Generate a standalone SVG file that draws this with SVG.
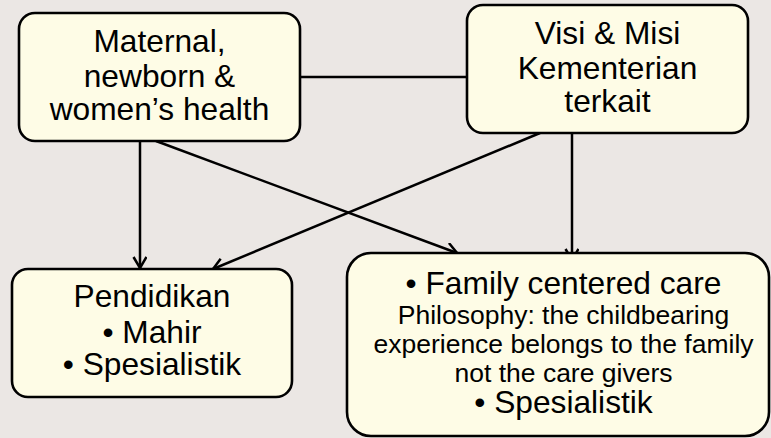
<svg xmlns="http://www.w3.org/2000/svg" width="771" height="438" viewBox="0 0 771 438">
<style>
.box{fill:#FEFCE6;stroke:#000;stroke-width:2.6}
.t{font-family:"Liberation Sans",Arial,sans-serif;fill:#000;text-anchor:middle}
.big{font-size:31.7px}
.small{font-size:26.5px}
.c{fill:none;stroke:#000;stroke-width:2.5}
</style>
<defs>
<marker id="arr" markerUnits="userSpaceOnUse" markerWidth="16" markerHeight="16" refX="12" refY="7" orient="auto">
<path d="M1,0.5 L12,7 L1,13.5" fill="none" stroke="#000" stroke-width="2.5"/>
</marker>
</defs>
<rect x="0" y="0" width="771" height="438" fill="#EBE7E4"/>
<g id="connectors">
<line class="c" x1="300" y1="77" x2="467" y2="77"/>
<line class="c" x1="140" y1="141" x2="140" y2="268" marker-end="url(#arr)"/>
<line class="c" x1="156" y1="141" x2="457" y2="253" marker-end="url(#arr)"/>
<line class="c" x1="540" y1="133" x2="213" y2="269" marker-end="url(#arr)"/>
<line class="c" x1="572" y1="133" x2="572" y2="260" marker-end="url(#arr)"/>
</g>
<g id="maternal">
<rect class="box" x="19" y="13" width="281" height="128" rx="16"/>
<text class="t big" x="159.5" y="52">Maternal,</text>
<text class="t big" x="159.5" y="86.5">newborn &amp;</text>
<text class="t big" x="159.5" y="119.5">women’s health</text>
</g>
<g id="visi">
<rect class="box" x="467" y="5" width="281" height="128" rx="16"/>
<text class="t big" x="607.5" y="43.5">Visi &amp; Misi</text>
<text class="t big" x="607.5" y="78.5">Kementerian</text>
<text class="t big" x="607.5" y="111.5">terkait</text>
</g>
<g id="pendidikan">
<rect class="box" x="12" y="269" width="280" height="128" rx="16"/>
<text class="t big" x="152" y="307">Pendidikan</text>
<text class="t big" x="152" y="342.5">• Mahir</text>
<text class="t big" x="152" y="375">• Spesialistik</text>
</g>
<g id="family">
<rect class="box" x="347" y="253" width="422" height="183" rx="24"/>
<text class="t big" x="563.5" y="294">• Family centered care</text>
<text class="t small" x="563.5" y="324">Philosophy: the childbearing</text>
<text class="t small" x="563.5" y="353">experience belongs to the family</text>
<text class="t small" x="563.5" y="382">not the care givers</text>
<text class="t big" x="563.5" y="413">• Spesialistik</text>
</g>
</svg>
